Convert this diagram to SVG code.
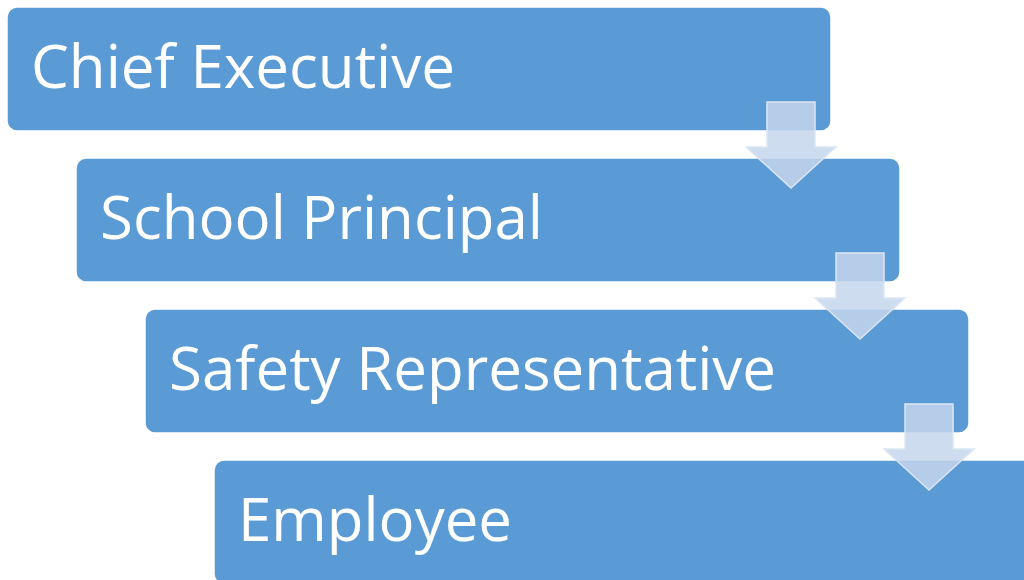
<svg xmlns="http://www.w3.org/2000/svg" width="1024" height="580" viewBox="0 0 1024 580">
<style>
.box{fill:#5B9BD5;stroke:#ffffff;stroke-width:1.5}
.lbl{font-family:"Open Sans","Liberation Sans",sans-serif;font-size:60px;fill:#ffffff}
.arr{fill:#C6D6EC;fill-opacity:0.85;stroke:#DCE6F2;stroke-width:1.5;stroke-linejoin:miter}
</style>
<rect width="1024" height="580" fill="#ffffff"/>
<g id="node-chief">
<rect class="box" x="7" y="7" width="824" height="124" rx="10"/>
<text class="lbl" x="31" y="88" textLength="424" lengthAdjust="spacingAndGlyphs">Chief Executive</text>
</g>
<g id="node-principal">
<rect class="box" x="76" y="158" width="824" height="124" rx="10"/>
<text class="lbl" x="100" y="239" textLength="443" lengthAdjust="spacingAndGlyphs">School Principal</text>
</g>
<g id="node-safety">
<rect class="box" x="145" y="309" width="824" height="124" rx="10"/>
<text class="lbl" x="169" y="390" textLength="607" lengthAdjust="spacingAndGlyphs">Safety Representative</text>
</g>
<g id="node-employee">
<rect class="box" x="214" y="460" width="824" height="124" rx="10"/>
<text class="lbl" x="238" y="541" textLength="274" lengthAdjust="spacingAndGlyphs">Employee</text>
</g>
<g id="connectors">
<path class="arr" d="M767,102 H815 V147 H836 L791,188 L746,147 H767 Z"/>
<path class="arr" d="M836,253 H884 V298 H905 L860,339 L815,298 H836 Z"/>
<path class="arr" d="M905,404 H953 V449 H974 L929,490 L884,449 H905 Z"/>
</g>
</svg>
